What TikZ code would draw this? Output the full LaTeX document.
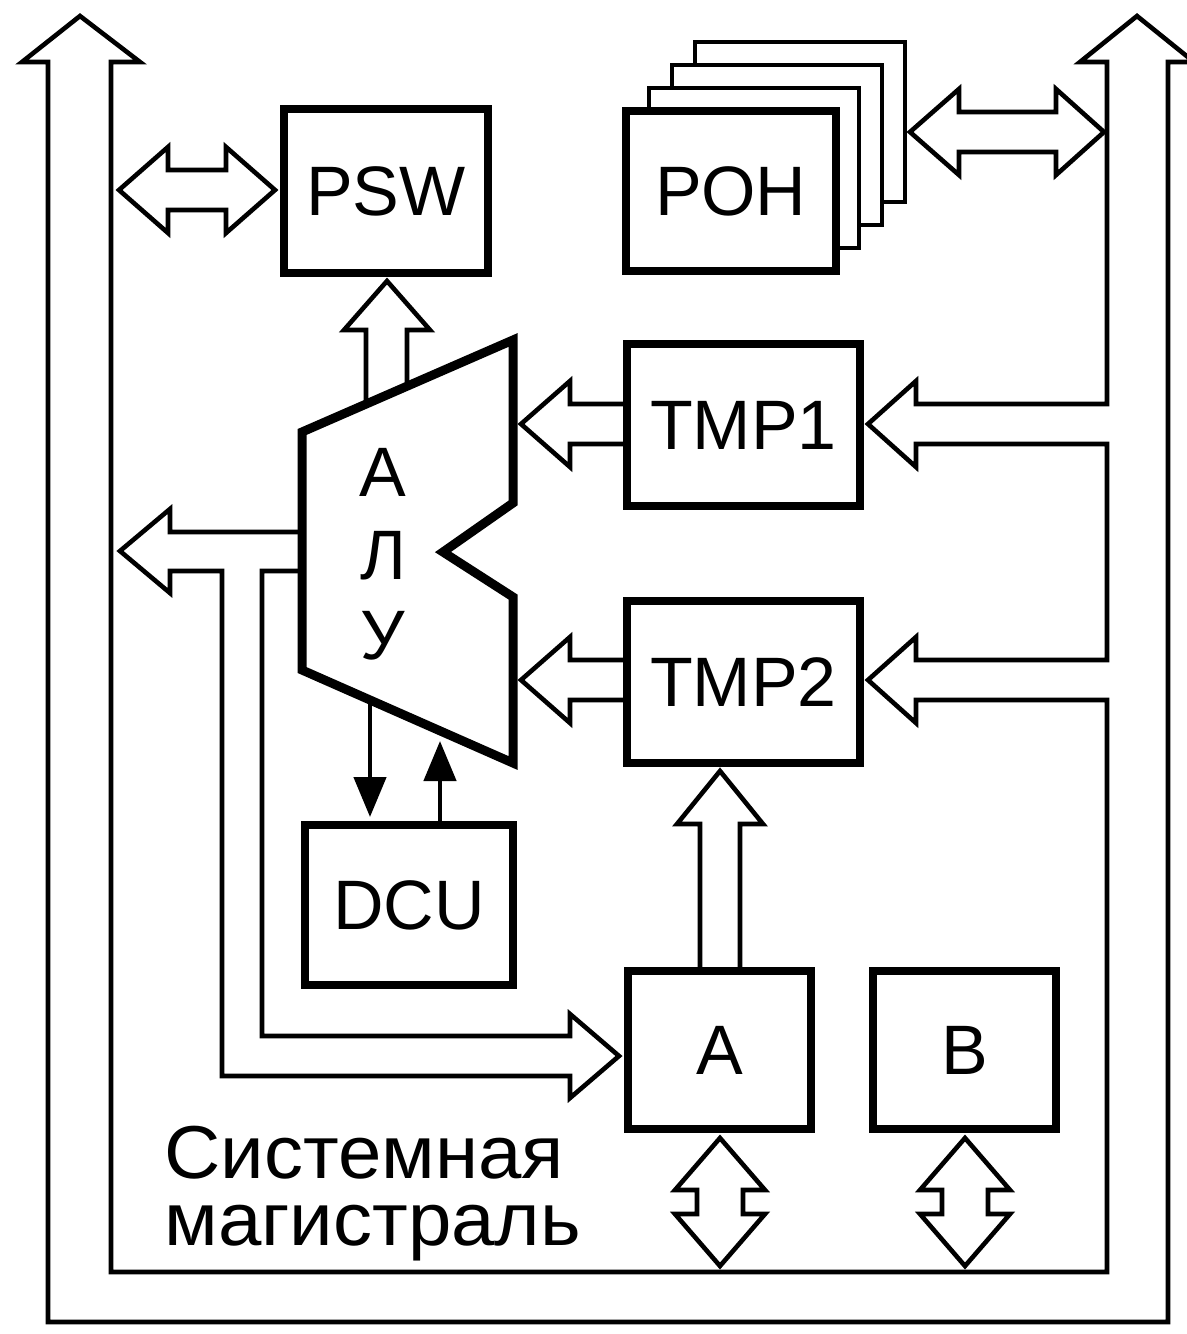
\documentclass[tikz,border=0pt]{standalone}
\usepackage{fontspec}
\setmainfont{Liberation Sans}
\newfontfamily\labfont[FakeStretch=1.04]{Liberation Sans}
\usetikzlibrary{arrows.meta,calc}
\begin{document}
\begin{tikzpicture}[x=0.5pt,y=-0.5pt,
  thinln/.style={line width=2.3pt, line join=miter},
  boxstyle/.style={draw, line width=4pt, fill=white, inner sep=0pt, font=\fontsize{35pt}{42pt}\selectfont},
  backbox/.style={draw, line width=2.4pt, fill=white},
  lbl/.style={font=\fontsize{35pt}{42pt}\selectfont, inner sep=0pt},
  buslbl/.style={font=\labfont\fontsize{37.5pt}{33.5pt}\selectfont, inner sep=0pt, align=left, text width=220pt},
  tri/.style={line width=2.3pt, -{Triangle[length=20pt,width=16pt]}}]
\useasboundingbox (0,0) rectangle (1187,1334);

% system bus (one closed outline with the taps to TMP1 and TMP2)
\draw[thinln] (140,62) -- (111,62) -- (111,1272) -- (1107,1272) -- (1107,700)
  -- (916,700) -- (916,723) -- (868,680) -- (916,637) -- (916,660) -- (1107,660)
  -- (1107,444) -- (916,444) -- (916,467) -- (868,424) -- (916,381) -- (916,404)
  -- (1107,404) -- (1107,62) -- (1080,62) -- (1137,16) -- (1194,62) -- (1168,62)
  -- (1168,1322) -- (48,1322) -- (48,62) -- (22,62) -- (80,16) -- cycle;

% POH stacked layers
\draw[backbox] (695,42) rectangle (905,202);
\draw[backbox] (672,65) rectangle (882,225);
\draw[backbox] (649,88) rectangle (859,248);

% boxes
\node[boxstyle, minimum width=102pt, minimum height=82pt] (psw) at (386,191) {PSW};
\node[boxstyle, minimum width=105pt, minimum height=80pt] (roh) at (731,191) {РОН};
\node[boxstyle, minimum width=116.5pt, minimum height=81pt] (tmp1) at (743.5,425) {TMP1};
\node[boxstyle, minimum width=116.5pt, minimum height=81pt] (tmp2) at (743.5,682) {TMP2};
\node[boxstyle, minimum width=104pt, minimum height=80pt] (dcu) at (409,905) {DCU};
\node[boxstyle, minimum width=91.5pt, minimum height=79pt] (rega) at (719.5,1050) {A};
\node[boxstyle, minimum width=91.5pt, minimum height=79pt] (regb) at (964.5,1050) {B};

% bus <-> PSW
\draw[thinln] (119,190) -- (168,147) -- (168,170) -- (226,170) -- (226,147) -- (275,190)
  -- (226,233) -- (226,210) -- (168,210) -- (168,233) -- cycle;
% POH <-> bus
\draw[thinln] (910,132) -- (959,89) -- (959,112) -- (1056,112) -- (1056,89) -- (1104,132)
  -- (1056,175) -- (1056,152) -- (959,152) -- (959,175) -- cycle;

% TMP1 -> ALU, TMP2 -> ALU
\draw[thinln] (623,404) -- (570,404) -- (570,381) -- (521,424) -- (570,467) -- (570,444) -- (623,444);
\draw[thinln] (623,660) -- (570,660) -- (570,637) -- (521,680) -- (570,723) -- (570,700) -- (623,700);

% ALU -> PSW
\draw[thinln] (366,404) -- (366,330) -- (344,330) -- (387,281) -- (430,330) -- (407,330) -- (407,386);

% ALU -> bus and ALU -> A
\draw[thinln] (302,532) -- (170,532) -- (170,509) -- (120,551) -- (170,593) -- (170,571)
  -- (222,571) -- (222,1076) -- (570,1076) -- (570,1098) -- (619,1056) -- (570,1014)
  -- (570,1036) -- (262,1036) -- (262,571) -- (302,571);

% A -> TMP2
\draw[thinln] (700,968) -- (700,824) -- (677,824) -- (720,771) -- (763,824) -- (740,824) -- (740,968);

% A <-> bus, B <-> bus
\draw[thinln] (720,1138) -- (765,1190) -- (743,1190) -- (743,1214) -- (765,1214) -- (720,1266)
  -- (675,1214) -- (697,1214) -- (697,1190) -- (675,1190) -- cycle;
\draw[thinln] (965,1138) -- (1010,1190) -- (988,1190) -- (988,1214) -- (1010,1214) -- (965,1266)
  -- (920,1214) -- (942,1214) -- (942,1190) -- (920,1190) -- cycle;

% ALU
\draw[line width=4.5pt, line join=miter, fill=white] (513,340) -- (513,503) -- (443,552)
  -- (513,597) -- (513,763) -- (302,670) -- (302,432) -- cycle;
\node[lbl] (alua) at (383,472) {А};
\node[lbl] (alul) at (383,556) {Л};
\node[lbl] (aluy) at (383,636) {У};

% ALU <-> DCU
\coordinate (aluout) at (370,700);
\coordinate (aluin) at (440,741);
\draw[tri] (aluout) -- ($(aluout |- dcu.north)+(0,-4)$);
\draw[tri] (aluin |- dcu.north) -- (aluin);

% bus label
\node[buslbl, anchor=base west] (buslabel) at (164,1178) {Системная\\магистраль};
\end{tikzpicture}
\end{document}
